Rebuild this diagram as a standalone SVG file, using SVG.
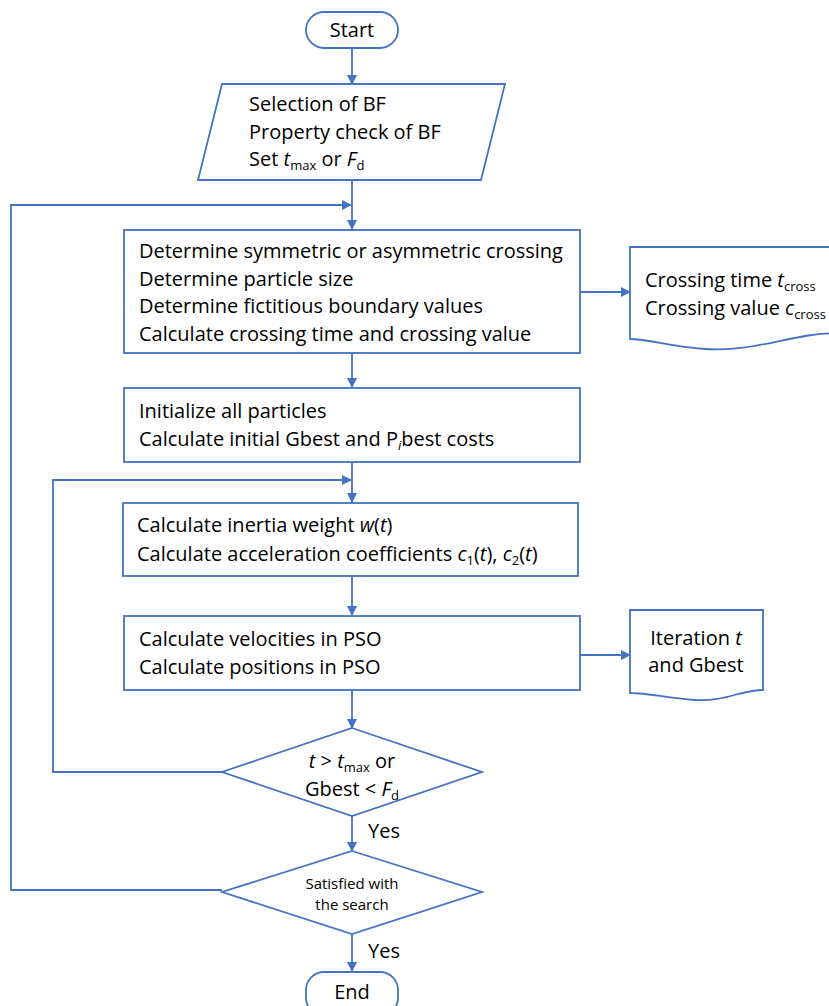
<svg xmlns="http://www.w3.org/2000/svg" width="829" height="1006" viewBox="0 0 829 1006">
<style>
.s{fill:#fff;stroke:#4472C4;stroke-width:1.8}
.c{fill:none;stroke:#4472C4;stroke-width:1.8}
text{font-family:"Open Sans","Liberation Sans",Arial,sans-serif;font-size:20px;fill:#000}
.m{text-anchor:middle}
.sm{font-size:15px}
.sub{font-size:13px}
</style>
<defs>
<marker id="a" viewBox="0 0 10 10" refX="9" refY="5" markerWidth="11" markerHeight="10" orient="auto" markerUnits="userSpaceOnUse">
<path d="M0,0 L10,5 L0,10 z" fill="#4472C4"/>
</marker>
</defs>
<rect width="829" height="1006" fill="#fff"/>
<g id="connectors">
<line class="c" x1="352" y1="48" x2="352" y2="84" marker-end="url(#a)"/>
<line class="c" x1="352" y1="180" x2="352" y2="229" marker-end="url(#a)"/>
<polyline class="c" points="222,890 11,890 11,205 351,205" marker-end="url(#a)"/>
<line class="c" x1="580" y1="292" x2="630" y2="292" marker-end="url(#a)"/>
<line class="c" x1="352" y1="353" x2="352" y2="387" marker-end="url(#a)"/>
<line class="c" x1="352" y1="462" x2="352" y2="502" marker-end="url(#a)"/>
<polyline class="c" points="222,772 53,772 53,480 351,480" marker-end="url(#a)"/>
<line class="c" x1="352" y1="576" x2="352" y2="615" marker-end="url(#a)"/>
<line class="c" x1="580" y1="655" x2="630" y2="655" marker-end="url(#a)"/>
<line class="c" x1="352" y1="690" x2="352" y2="728" marker-end="url(#a)"/>
<line class="c" x1="352" y1="816" x2="352" y2="851" marker-end="url(#a)"/>
<line class="c" x1="352" y1="934" x2="352" y2="971" marker-end="url(#a)"/>
<text x="368" y="838">Yes</text>
<text x="368" y="958">Yes</text>
</g>
<g id="start">
<rect class="s" x="306" y="12" width="92" height="36" rx="18"/>
<text class="m" x="352" y="37">Start</text>
</g>
<g id="input">
<polygon class="s" points="222,84 505,84 481,180 198,180"/>
<text x="249" y="111">Selection of BF</text>
<text x="249" y="139">Property check of BF</text>
<text x="249" y="166">Set <tspan font-style="italic">t</tspan><tspan class="sub" dy="4">max</tspan><tspan dy="-4"> or </tspan><tspan font-style="italic">F</tspan><tspan class="sub" dy="4">d</tspan></text>
</g>
<g id="box1">
<rect class="s" x="124" y="230" width="456" height="123"/>
<text x="139" y="258">Determine symmetric or asymmetric crossing</text>
<text x="139" y="286">Determine particle size</text>
<text x="139" y="313">Determine fictitious boundary values</text>
<text x="139" y="341">Calculate crossing time and crossing value</text>
</g>
<g id="doc1">
<path class="s" d="M630,247 H840 V333 C790,333 760,352 705,349 C670,347 650,339 630,339 Z"/>
<text x="645" y="287">Crossing time <tspan font-style="italic">t</tspan><tspan class="sub" dy="4">cross</tspan></text>
<text x="645" y="315">Crossing value <tspan font-style="italic">c</tspan><tspan class="sub" dy="4">cross</tspan></text>
</g>
<g id="box2">
<rect class="s" x="124" y="388" width="456" height="74"/>
<text x="139" y="418">Initialize all particles</text>
<text x="139" y="446">Calculate initial Gbest and P<tspan class="sub" font-style="italic" dy="4">i</tspan><tspan dy="-4">best costs</tspan></text>
</g>
<g id="box3">
<rect class="s" x="123" y="503" width="455" height="73"/>
<text x="137" y="532">Calculate inertia weight <tspan font-style="italic">w</tspan>(<tspan font-style="italic">t</tspan>)</text>
<text x="137" y="561">Calculate acceleration coefficients <tspan font-style="italic">c</tspan><tspan class="sub" dy="4">1</tspan><tspan dy="-4">(</tspan><tspan font-style="italic">t</tspan>), <tspan font-style="italic">c</tspan><tspan class="sub" dy="4">2</tspan><tspan dy="-4">(</tspan><tspan font-style="italic">t</tspan>)</text>
</g>
<g id="box4">
<rect class="s" x="124" y="616" width="456" height="74"/>
<text x="139" y="646">Calculate velocities in PSO</text>
<text x="139" y="674">Calculate positions in PSO</text>
</g>
<g id="doc2">
<path class="s" d="M630,610 H763 V690 C740,690 725,702 695,700 C665,698 650,693 630,693 Z"/>
<text class="m" x="696" y="645">Iteration <tspan font-style="italic">t</tspan></text>
<text class="m" x="696" y="672">and Gbest</text>
</g>
<g id="decision1">
<polygon class="s" points="352,728 482,772 352,816 222,772"/>
<text class="m" x="352" y="768"><tspan font-style="italic">t</tspan> &gt; <tspan font-style="italic">t</tspan><tspan class="sub" dy="4">max</tspan><tspan dy="-4"> or</tspan></text>
<text class="m" x="352" y="796">Gbest &lt; <tspan font-style="italic">F</tspan><tspan class="sub" dy="4">d</tspan></text>
</g>
<g id="decision2">
<polygon class="s" points="352,851 482,892 352,934 222,892"/>
<text class="m sm" x="352" y="889">Satisfied with</text>
<text class="m sm" x="352" y="910">the search</text>
</g>
<g id="end">
<rect class="s" x="306" y="972" width="92" height="44" rx="18"/>
<text class="m" x="352" y="999">End</text>
</g>
</svg>
